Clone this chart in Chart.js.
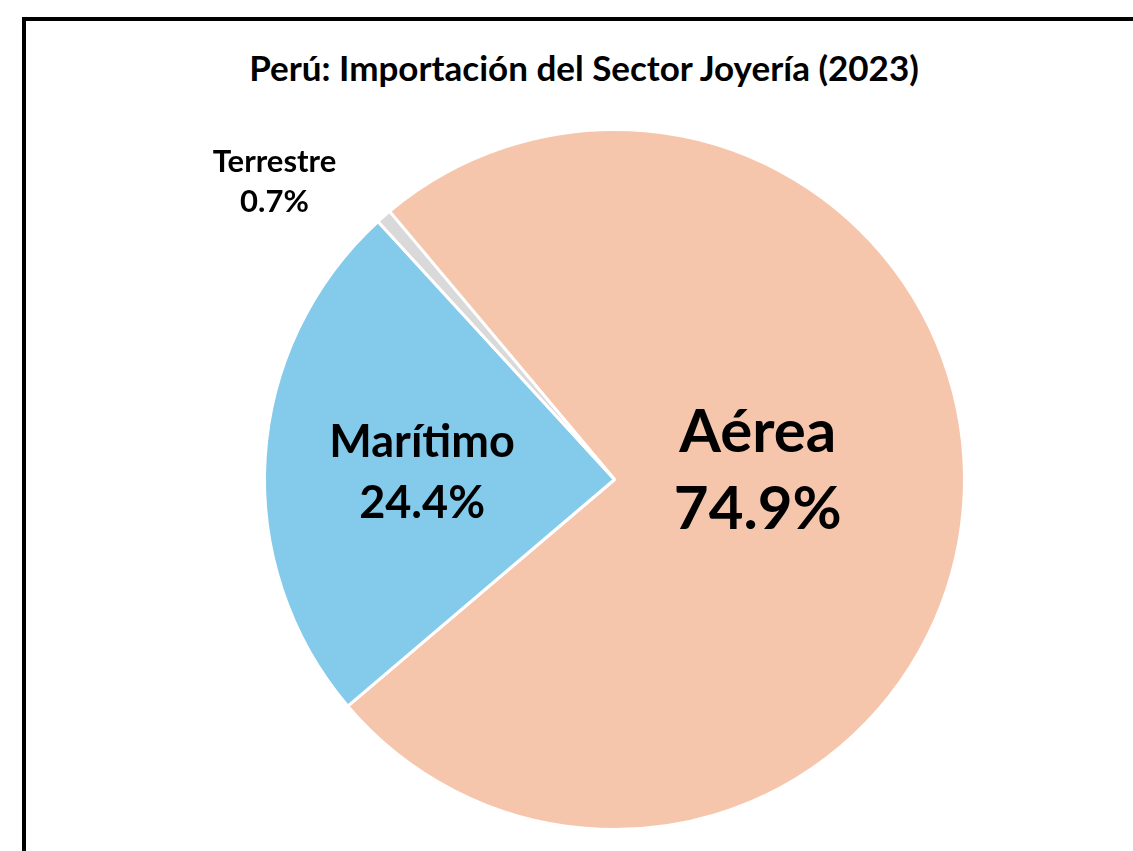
<!DOCTYPE html>
<html>
<head>
<meta charset="utf-8">
<script src="https://cdn.jsdelivr.net/npm/chart.js@4.4.1/dist/chart.umd.min.js"></script>
<style>
  html, body { margin: 0; padding: 0; background: #fff; overflow: hidden; }
  #wrap { position: relative; width: 1133px; height: 851px; }
  #frame { position: absolute; left: 22px; top: 17px; width: 1200px; height: 900px; border: 4px solid #000; box-sizing: border-box; }
  #title { position: absolute; left: 0; width: 1168px; top: 47px; text-align: center;
           font-family: "Lato", sans-serif; font-weight: 700; font-size: 35px; color: #000; line-height: 40px; }
  canvas { position: absolute; left: 0; top: 0; }
</style>
</head>
<body>
<div id="wrap">
  <div id="frame"></div>
  <div id="title">Perú: Importación del Sector Joyería (2023)</div>
  <canvas id="c" width="1133" height="851"></canvas>
</div>
<script>
const categories = ['Aérea', 'Marítimo', 'Terrestre'];
const shares = [74.9, 24.4, 0.7];
const sliceColors = ['#F6C6AC', '#84CAEA', '#D9D9D9'];
const labelFontSizes = [60, 45, 31];
const labelLineHeights = [77, 61, 40];
const labelRadialFractions = [0.41, 0.55, 1.29];
const labelAngleOffsetsDeg = [-8, -1.7, -7.6];

const labelPlugin = {
  id: 'sliceLabels',
  afterDatasetsDraw(chart) {
    const ctx = chart.ctx;
    const meta = chart.getDatasetMeta(0);
    meta.data.forEach((arc, i) => {
      const p = arc.getProps(['x', 'y', 'startAngle', 'endAngle', 'outerRadius'], true);
      const mid = (p.startAngle + p.endAngle) / 2 + labelAngleOffsetsDeg[i] * Math.PI / 180;
      const r = p.outerRadius * labelRadialFractions[i];
      const cx = p.x + Math.cos(mid) * r;
      const cy = p.y + Math.sin(mid) * r;
      const lines = [categories[i], shares[i].toFixed(1) + '%'];
      ctx.save();
      ctx.fillStyle = '#000';
      ctx.textAlign = 'center';
      ctx.textBaseline = 'middle';
      ctx.font = '700 ' + labelFontSizes[i] + 'px Lato';
      const lh = labelLineHeights[i];
      lines.forEach((t, k) => {
        ctx.fillText(t, cx, cy + (k - (lines.length - 1) / 2) * lh);
      });
      ctx.restore();
    });
  }
};

function build() {
  new Chart(document.getElementById('c'), {
    type: 'pie',
    data: {
      labels: categories,
      datasets: [{
        data: shares,
        backgroundColor: sliceColors,
        borderColor: '#FFFFFF',
        borderWidth: 3
      }]
    },
    options: {
      responsive: false,
      animation: false,
      rotation: -40,
      layout: { padding: { left: 263, right: 167, top: 126, bottom: 18 } },
      plugins: {
        legend: { display: false },
        title: { display: false },
        tooltip: { enabled: false }
      }
    },
    plugins: [labelPlugin]
  });
}
if (document.fonts && document.fonts.load) {
  Promise.all([document.fonts.load('700 40px Lato')]).then(build, build);
} else { build(); }
</script>
</body>
</html>
